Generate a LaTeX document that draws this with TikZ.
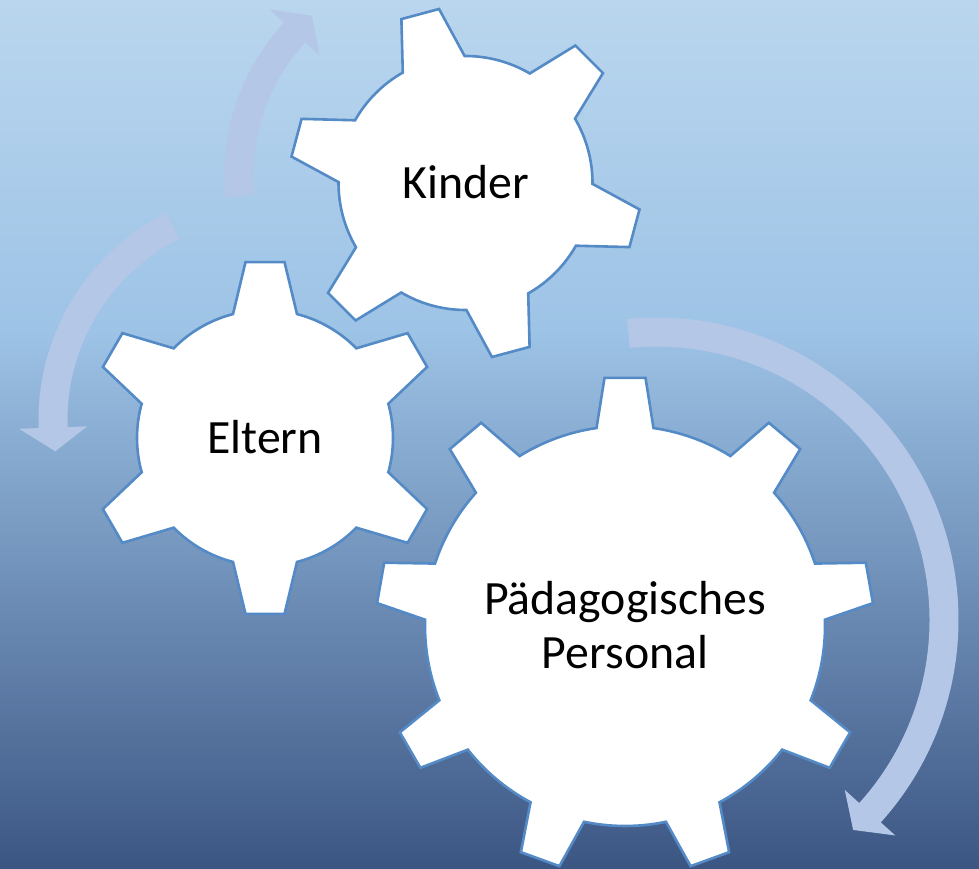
\documentclass[tikz,border=0pt]{standalone}
\usepackage{fontspec}
\setmainfont{Carlito}

\definecolor{bgtop}{RGB}{186,214,238}
\definecolor{bgmid}{RGB}{157,195,230}
\definecolor{bgbottom}{RGB}{60,86,132}
\definecolor{gearedge}{RGB}{84,138,198}
\definecolor{arrowblue}{RGB}{180,199,231}

\pgfdeclareverticalshading{backdrop}{100bp}{color(0bp)=(bgbottom); color(25bp)=(bgbottom); color(56bp)=(bgmid); color(75bp)=(bgtop); color(100bp)=(bgtop)}

\tikzset{
  gearshape/.style={draw=gearedge, fill=white, line width=2.6pt, line join=miter},
  arrowband/.style={fill=arrowblue},
  gearlabel/.style={font=\fontsize{47.8}{54}\selectfont, align=center, text=black}
}

% gear: center, teeth, first tooth angle, root radius, tip radius, half width at root, half width at tip
\newcommand\gear[7]{%
  \pgfmathsetmacro\gstep{360/#2}
  \pgfmathsetmacro\groot{asin(#6/#4)}
  \pgfmathsetmacro\gtip{asin(#7/#5)}
  \pgfmathtruncatemacro\glast{#2-1}
  \draw[gearshape] ([shift={#1}]#3-\groot:#4pt)
    \foreach \k [evaluate=\k as \ga using #3+\k*\gstep] in {0,...,\glast}{
      -- ([shift={#1}]\ga-\gtip:#5pt) -- ([shift={#1}]\ga+\gtip:#5pt)
      -- ([shift={#1}]\ga+\groot:#4pt)
      arc[start angle=\ga+\groot, end angle=\ga+\gstep-\groot, radius=#4pt]
    } -- cycle;
}

% curved arrow: center, radius, start angle, head angle, tip angle
\newcommand\turnarrow[5]{%
  \pgfmathsetmacro\aout{#2+14.5}
  \pgfmathsetmacro\ain{#2-14.5}
  \pgfmathsetmacro\awo{#2+34}
  \pgfmathsetmacro\awi{#2-34}
  \fill[arrowband] ([shift={#1}]#3:\aout pt)
    arc[start angle=#3, end angle=#4, radius=\aout pt]
    -- ([shift={#1}]#4:\awo pt) -- ([shift={#1}]#5:#2pt) -- ([shift={#1}]#4:\awi pt)
    -- ([shift={#1}]#4:\ain pt)
    arc[start angle=#4, end angle=#3, radius=\ain pt] -- cycle;
}

\begin{document}
\begin{tikzpicture}[x=1pt, y=1pt]
\useasboundingbox (0,0) rectangle (979,868);
\shade[shading=backdrop] (0,0) rectangle (979,868);

% arrows running round the gears
\turnarrow{(448,693.5)}{209}{185.9}{137.2}{130.6}
\turnarrow{(270,448)}{217}{116.6}{182}{188.3}
\turnarrow{(656,248)}{288}{95.5}{-42}{-46.8}

% gears
\gear{(465.5,685)}{6}{105}{127}{176}{32}{19.5}
\gear{(265,430)}{6}{90}{128}{177}{32}{19.5}
\gear{(625,242)}{9}{90}{200}{249}{28.5}{20.5}

\node[gearlabel] (kinder) at (465.5,686) {Kinder};
\node[gearlabel] (eltern) at (265,431) {Eltern};
\node[gearlabel] (personal) at (625,243) {Pädagogisches\\Personal};
\end{tikzpicture}
\end{document}
